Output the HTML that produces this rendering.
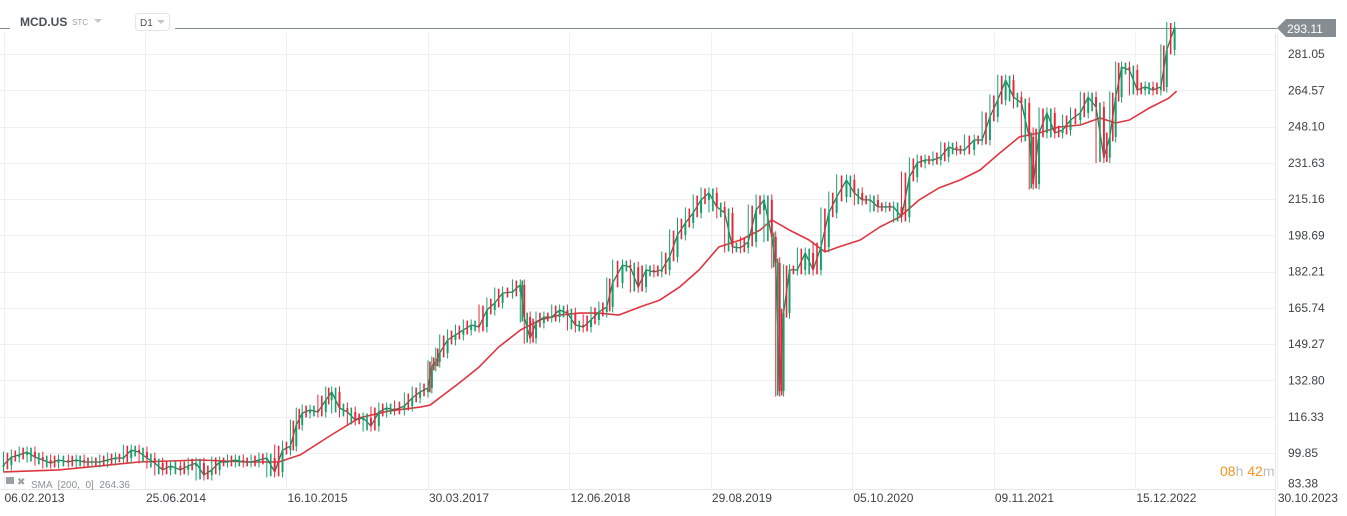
<!DOCTYPE html>
<html><head><meta charset="utf-8">
<style>
html,body{margin:0;padding:0;background:#fff;}
body{width:1347px;height:516px;overflow:hidden;font-family:"Liberation Sans",sans-serif;}
svg{display:block}
</style></head>
<body>
<svg id="chart" width="1347" height="516" xmlns="http://www.w3.org/2000/svg">
  <g id="grid"></g>
  <g id="sma"></g>
  <g id="candles"></g>
  <g id="yaxis"></g>
  <g id="xaxis"></g>
  <line x1="0" y1="28.5" x2="10" y2="28.5" stroke="#7f8a8f" stroke-width="1"/>
  <text x="20" y="26" font-size="12" font-weight="bold" fill="#4a5056">MCD.US</text>
  <text x="72" y="25" font-size="8" fill="#9aa0a5">STC</text>
  <path d="M94 19 L102 19 L98 23 Z" fill="#c3c7ca"/>
  <rect x="135.5" y="13.5" width="34" height="17" rx="3" fill="#fff" stroke="#e3e5e7"/>
  <text x="140" y="26" font-size="10" fill="#4a5056">D1</text>
  <path d="M157 20 L165 20 L161 24 Z" fill="#c3c7ca"/>
  <g id="pricetag">
    <path d="M1277 28 L1286 19 L1336 19 L1336 37 L1286 37 Z" fill="#858d92"/>
    <text x="1287" y="33" font-size="12" fill="#fff">293.11</text>
  </g>
  <g>
    <rect x="6" y="477" width="8" height="7" fill="#9aa0a5"/>
    <text x="17" y="485" font-size="10" fill="#9aa0a5">✖</text>
    <text x="31" y="488" font-size="10" fill="#8a9095" xml:space="preserve">SMA  [200,  0]  264.36</text>
  </g>
  <g>
    <text x="1220" y="476" font-size="14" fill="#f7931e">08<tspan fill="#b9bdc0">h</tspan> 42<tspan fill="#b9bdc0">m</tspan></text>
  </g>
</svg>
<script>
const weeks = [0,4,8,12,16,20,24,28,33,37,41,45,49,53,57,61,65,69,73,77,81,85,90,94,98,102,106,110,114,118,122,126,130,134,138,142,146,149,152,156,160,164,167,171,175,179,183,187,191,195,199,204,208,212,216,218,220,222,226,230,234,238,242,246,250,254,259,263,265,268,271,275,279,283,287,291,295,299,303,307,310,315,319,323,327,331,335,339,343,347,351,355,359,363,367,371,375,379,383,387,391,393,395,397,400,404,408,412,416,420,424,429,433,437,441,445,449,453,457,461,465,469,473,477,481,485,489,494,498,502,506,510,514,518,522,524,527,531,535,539,543,548,552,556,560,563,566,569,573,577,581,585,589,592,596];
const closes = [94.4,98.0,99.0,100.3,98.0,96.7,95.3,96.7,95.8,96.7,95.8,95.8,95.8,96.7,97.6,97.6,101.2,100.3,97.6,95.3,92.2,94.0,92.2,94.0,95.3,89.9,92.2,95.8,95.8,96.7,95.8,95.8,96.7,97.6,91.3,101.2,103.0,112.6,118.0,119.4,118.5,123.9,127.6,120.3,118.5,114.9,115.8,112.1,118.5,120.3,119.4,121.2,124.9,127.6,129.4,139.4,141.2,145.3,151.2,153.5,155.7,158.0,157.1,164.8,168.0,172.5,173.0,176.2,161.6,152.0,158.9,161.6,161.6,164.8,163.4,158.0,157.1,160.3,163.9,166.2,177.1,185.2,184.3,175.2,183.0,182.1,183.0,188.9,198.9,204.3,208.9,214.8,218.0,211.6,208.9,193.4,193.0,195.7,210.2,214.8,198.0,186.2,128.0,163.4,183.0,183.0,190.7,183.0,193.4,208.9,216.1,223.9,218.0,214.8,214.8,211.6,211.6,211.6,207.0,225.2,231.6,232.9,232.9,234.3,238.8,237.5,237.5,242.0,242.0,252.5,260.2,269.2,261.5,258.8,243.4,222.0,245.2,254.3,245.2,246.5,251.1,254.3,261.5,257.0,234.0,243.4,261.5,275.1,273.8,264.7,266.1,264.7,266.1,282.9,293.1];
const smaWeeks = [0,28,49,69,100,125,140,151,166,181,196,212,217,232,242,252,263,273,283,293,303,313,324,334,344,354,364,375,385,391,400,410,418,425,436,446,456,466,476,487,497,507,517,527,537,548,558,566,573,583,593,597];
const smaValues = [91.3,92.2,94.0,95.8,96.7,95.8,95.8,99.0,107.6,115.8,118.9,120.7,121.6,131.7,138.9,148.0,155.7,160.3,162.5,163.4,163.4,162.5,166.2,169.3,175.2,183.0,193.4,196.6,201.1,205.7,201.1,196.6,191.2,193.4,196.6,202.5,207.0,214.8,220.2,223.9,228.4,236.1,243.4,245.2,247.9,248.8,252.0,249.7,251.1,256.5,261.0,264.2];
const yTicks = [281.05,264.57,248.10,231.63,215.16,198.69,182.21,165.74,149.27,132.80,116.33,99.85,83.38];
const xTickLabels = ["06.02.2013","25.06.2014","16.10.2015","30.03.2017","12.06.2018","29.08.2019","05.10.2020","09.11.2021","15.12.2022","30.10.2023"];
const xTickWeeks = [0,72,144,216,288,360,432,504,576,648];

const NS="http://www.w3.org/2000/svg";
const X0=3.5, PXW=1.965;
function xs(w){return X0+w*PXW;}
function ys(p){return 54+(281.05-p)*2.2023;}
function mk(tag,attrs,parent){const e=document.createElementNS(NS,tag);for(const k in attrs)e.setAttribute(k,attrs[k]);parent.appendChild(e);return e;}

const grid=document.getElementById('grid');
mk('rect',{x:0,y:0,width:1347,height:516,fill:'#fff'},grid);
yTicks.forEach(function(t){
  const l=mk('line',{x1:0,x2:1276,y1:Math.round(ys(t))+0.5,y2:Math.round(ys(t))+0.5,stroke:'#eeeff0'},grid);
  
  
});
xTickWeeks.forEach(function(w){
  const x=Math.round(xs(w))+0.5;
  const l=mk('line',{x1:x,x2:x,y1:33,y2:489,stroke:'#eeeff0'},grid);
  
  
});
mk('line',{x1:1275.5,x2:1275.5,y1:33,y2:516,stroke:'#e6e8e9'},grid);
mk('line',{x1:0,x2:1276,y1:489.5,y2:489.5,stroke:'#e6e8e9'},grid);
mk('line',{x1:175,x2:1277,y1:28.5,y2:28.5,stroke:'#7f8a8f'},grid);

const ya=document.getElementById('yaxis');
yTicks.forEach(function(t,i){
  let y=ys(t)+4;
  if(i===yTicks.length-1) y=ys(t)-2;
  const tx=mk('text',{x:1288,y:y,'font-size':12,fill:'#3d4246'},ya);
  tx.textContent=t.toFixed(2);
  
  
});
const xa=document.getElementById('xaxis');
xTickLabels.forEach(function(s,i){
  const tx=mk('text',{x:xs(xTickWeeks[i])+1,y:502,'font-size':12,fill:'#3d4246'},xa);
  tx.textContent=s;
  
  
});

const sg=document.getElementById('sma');
let d='';
smaWeeks.forEach(function(w,i){d+=(i?'L':'M')+xs(w).toFixed(1)+' '+ys(smaValues[i]).toFixed(1)+' ';});
const sp=mk('path',{d:d,fill:'none',stroke:'#e0343f','stroke-width':1.6,'stroke-linejoin':'round'},sg);



const cg=document.getElementById('candles');
// continuity line through closes
let cd='';
closes.forEach(function(c,i){cd+=(i?'L':'M')+xs(weeks[i]).toFixed(1)+' '+ys(c).toFixed(1)+' ';});
const cl=mk('path',{d:cd,fill:'none',stroke:'#2b7a5a','stroke-width':1.3,'stroke-linejoin':'round'},cg);


for(let i=0;i<closes.length;i++){
  const o=i?closes[i-1]:closes[0]-0.8;
  const c=closes[i];
  const nx=i<closes.length-1?closes[i+1]:c;
  const up=c>=o;
  const col=up?'#13a06b':'#e8283a';
  const x=xs(weeks[i]);
  const hi=Math.max(o,c,nx)+2.5, lo=Math.min(o,c,nx)-2.5;
  const w=mk('line',{x1:x,x2:x,y1:ys(hi),y2:ys(lo),stroke:col,'stroke-width':1},cg);
  
  
  const yt=ys(Math.max(o,c)), yb=ys(Math.min(o,c));
  const r=mk('rect',{x:x-1,y:yt,width:2,height:Math.max(1,yb-yt),fill:col},cg);
  
  
  if(i>0){
    const xm=(xs(weeks[i-1])+x)/2;
    const col2=up?'#e8283a':'#13a06b';
    const ymin=ys(Math.max(o,c)+2), ymax=ys(Math.min(o,c)-2);
    const r2=mk('line',{x1:xm,x2:xm,y1:ymin,y2:ymax,stroke:col2,'stroke-width':1.6},cg);
    
    
  }
}
</script>
</body></html>
